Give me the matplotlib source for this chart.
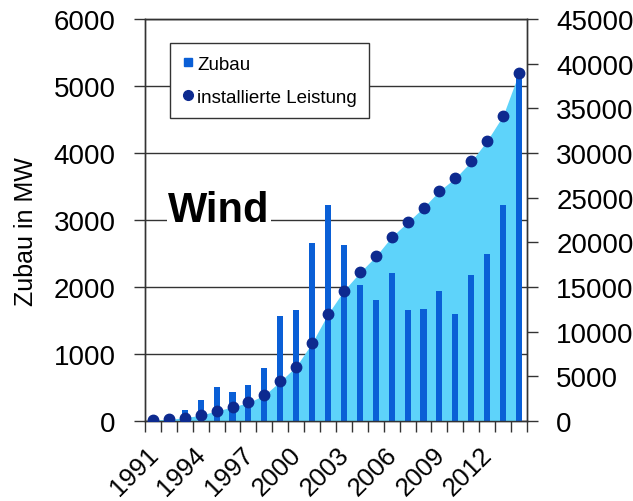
import numpy as np
import matplotlib.pyplot as plt
from matplotlib.lines import Line2D
from matplotlib.transforms import ScaledTranslation

plt.rcParams['font.family'] = ['Liberation Sans', 'DejaVu Sans']

# Wind power in Germany: yearly additions (MW) and installed capacity (MW)
years = list(range(1991, 2015))
zubau = [50, 70, 160, 310, 500, 430, 530, 790, 1560, 1650, 2650, 3225,
         2630, 2025, 1800, 2215, 1650, 1665, 1940, 1590, 2180, 2500, 3225, 5200]
leistung = [106, 180, 370, 640, 1140, 1550, 2080, 2880, 4440, 6100, 8750, 12000,
            14600, 16630, 18430, 20620, 22250, 23900, 25780, 27200, 29060, 31400,
            34200, 39000]

bar_color = '#0a5fd6'
dot_color = '#0d2a8f'
area_color = '#5ed3fa'
line_color = '#333333'

fig = plt.figure(figsize=(6.33, 5.02), dpi=100)
ax = fig.add_axes([0.229, 0.1594, 0.6035, 0.8006])
x = np.arange(len(years))

ax.set_xlim(-0.5, len(years) - 0.5)
ax.set_ylim(0, 6000)
ax.set_yticks(np.arange(0, 6001, 1000))
ax.yaxis.grid(True, color=line_color, lw=1)
ax.set_axisbelow(True)

# right axis: installed capacity
ax2 = ax.twinx()
ax2.set_ylim(0, 45000)
ax2.set_yticks(np.arange(0, 45001, 5000))
ax2.fill_between(x, leistung, color=area_color, lw=0, zorder=1)
ax2.bar(x, zubau, width=0.38, color=bar_color, transform=ax.transData, zorder=2)
ax2.plot(x, leistung, 'o', ls='none', color=dot_color, ms=7.5, zorder=3)
ax2.set_ylim(0, 45000)

# x axis: labels every 3 years, ticks between categories
ax.set_xticks(x[::3])
ax.set_xticklabels(years[::3], rotation=45, ha='right', va='top',
                   rotation_mode='anchor')
ax.set_xticks(np.arange(-0.5, len(years)), minor=True)
ax.tick_params(axis='x', which='minor', length=8, width=1, color=line_color)
ax.tick_params(axis='x', which='major', length=0, labelsize=18.5, pad=15)
shift = ScaledTranslation(-7 / 100, 0, fig.dpi_scale_trans)
for lbl in ax.get_xticklabels():
    lbl.set_transform(lbl.get_transform() + shift)

ax.tick_params(axis='y', direction='out', length=8, width=1, color=line_color,
               labelsize=20, pad=13)
ax2.tick_params(axis='y', direction='out', length=8, width=1, color=line_color,
                labelsize=20, pad=13)

for a in (ax, ax2):
    for s in a.spines.values():
        s.set_color(line_color)
        s.set_linewidth(1)

ax.set_ylabel('Zubau in MW', fontsize=18)
ax.yaxis.set_label_coords(-0.28, 0.473)

ax2.text(0.194, 0.4975, 'Wind', transform=ax2.transAxes, ha='center',
         va='baseline', fontsize=30, fontweight='bold', zorder=5,
         bbox=dict(fc='white', ec='none', pad=1))

handles = [
    Line2D([], [], marker='s', ls='none', color=bar_color, ms=6),
    Line2D([], [], marker='o', ls='none', color=dot_color, ms=7),
]
leg = ax2.legend(handles, ['Zubau', 'installierte Leistung'], loc='upper left',
                 bbox_to_anchor=(0.065, 0.94), borderaxespad=0, fontsize=13.5,
                 fancybox=False, framealpha=1, edgecolor=line_color,
                 handlelength=0.6, handletextpad=0.2, labelspacing=0.85,
                 borderpad=0.65)
leg.get_frame().set_linewidth(1)
leg.set_zorder(6)

fig.savefig('out.png', dpi=100)
